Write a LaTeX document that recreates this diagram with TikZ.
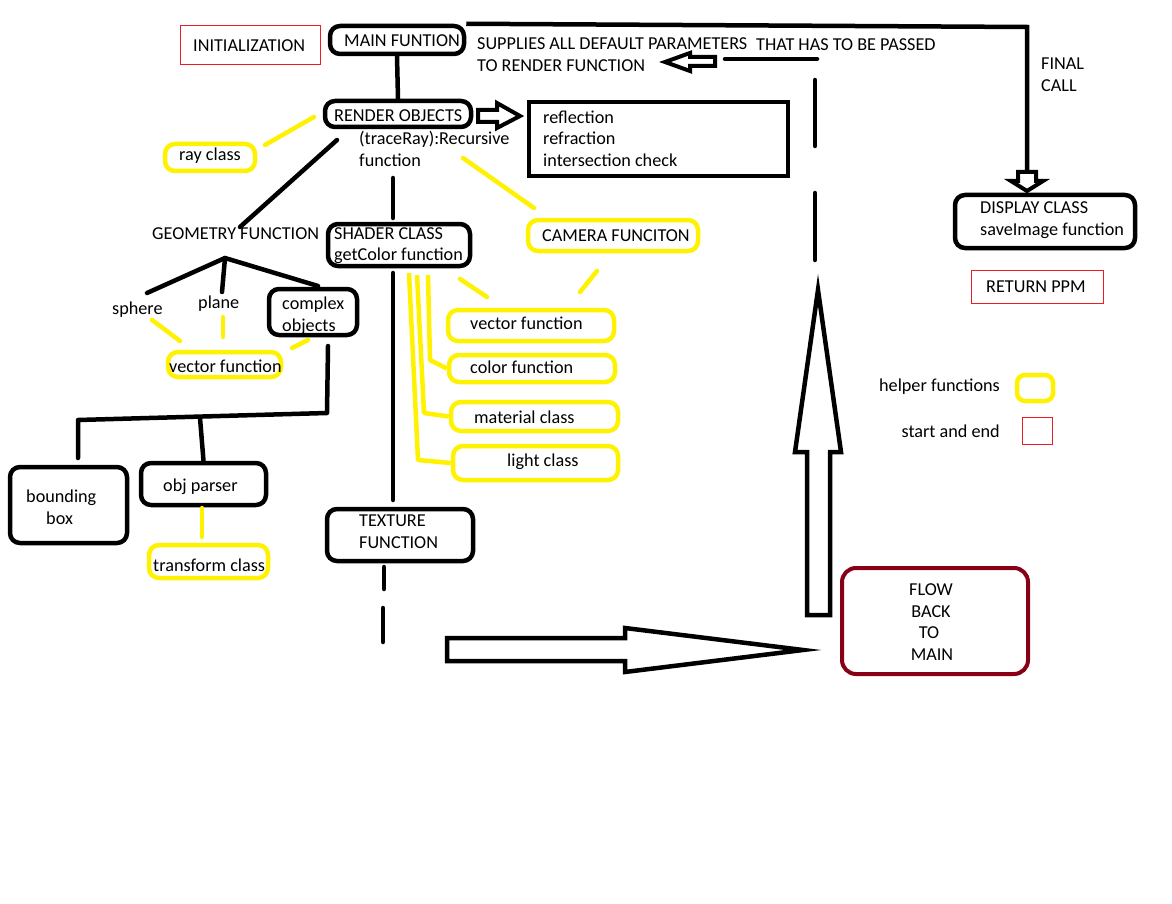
\documentclass[tikz,border=0pt]{standalone}
\usepackage{fontspec}
\setmainfont{Carlito}
\definecolor{py}{RGB}{255,242,0}
\definecolor{pr}{RGB}{237,28,36}
\definecolor{pd}{RGB}{136,0,21}
\begin{document}
\begin{tikzpicture}[x=1pt,y=-1pt,
  every node/.style={font=\fontsize{18.2}{22}\selectfont},
  txt/.style={inner sep=0pt, anchor=west, text height=12pt, text depth=0pt},
  ctxt/.style={inner sep=0pt, text height=12pt, text depth=0pt},
  etxt/.style={inner sep=0pt, anchor=east, text height=12pt, text depth=0pt},
  bbox/.style={draw=black, line width=4.5pt, rounded corners=10pt, inner sep=0pt},
  ybox/.style={draw=py, line width=4.5pt, rounded corners=10pt, inner sep=0pt},
  rbox/.style={draw=pr, line width=1pt, inner sep=0pt},
  blk/.style={draw=black, line width=4.5pt, line cap=round, line join=round},
  ylw/.style={draw=py, line width=4.5pt, line cap=round, line join=round},
  hol/.style={draw=black, line width=4pt, line join=miter, fill=white},
]
\fill[white] (0,0) rectangle (1172,904);
\useasboundingbox (0,0) rectangle (1172,904);

% boxes
\node[rbox, minimum width=140pt, minimum height=39pt] (init) at (250,45.5) {};
\node[bbox, minimum width=134pt, minimum height=28pt] (main) at (397,40) {};
\node[bbox, minimum width=146pt, minimum height=26pt] (render) at (398,114) {};
\node[draw=black, line width=4.5pt, inner sep=0pt, minimum width=259pt, minimum height=74pt] (refl) at (658.5,139) {};
\node[ybox, minimum width=90pt, minimum height=27pt] (ray) at (210,157.5) {};
\node[bbox, minimum width=88pt, minimum height=46pt] (complex) at (313,312) {};
\node[bbox, minimum width=142pt, minimum height=42pt] (shader) at (399,245) {};
\node[ybox, minimum width=113pt, minimum height=25pt] (vecL) at (224.5,364.5) {};
\node[ybox, minimum width=170pt, minimum height=31pt] (camera) at (613,235.5) {};
\node[ybox, minimum width=166pt, minimum height=31pt] (vecR) at (531,325.5) {};
\node[ybox, minimum width=166pt, minimum height=27pt] (color) at (532,368.5) {};
\node[ybox, minimum width=167pt, minimum height=29pt] (material) at (534.5,416.5) {};
\node[ybox, minimum width=165pt, minimum height=34pt] (light) at (535.5,463) {};
\node[bbox, minimum width=117pt, minimum height=76pt] (bbx) at (68.5,505) {};
\node[bbox, minimum width=125pt, minimum height=42pt] (objp) at (203.5,484) {};
\node[ybox, minimum width=119pt, minimum height=33pt] (transform) at (208.5,561.5) {};
\node[bbox, minimum width=146pt, minimum height=52pt] (texture) at (400,535) {};
\node[bbox, minimum width=180pt, minimum height=53pt] (display) at (1045,221.5) {};
\node[draw=pd, line width=4pt, rounded corners=14pt, inner sep=0pt, minimum width=186pt, minimum height=106pt] (flow) at (935,621) {};
\node[rbox, minimum width=132pt, minimum height=33pt] (ppm) at (1037,286.5) {};
\node[ybox, minimum width=36pt, minimum height=26pt, rounded corners=8pt] (legy) at (1035,388) {};
\node[rbox, minimum width=30pt, minimum height=27pt] (legr) at (1037,430.5) {};

% texts
\node[txt] (t1) at (193,45.5) {INITIALIZATION};
\node[txt] (t2) at (344,41) {MAIN FUNTION};
\node[txt] (t3) at (477,44) {SUPPLIES ALL DEFAULT PARAMETERS};
\node[txt] (t4) at (756,45) {THAT HAS TO BE PASSED};
\node[txt] (t5) at (477,66) {TO RENDER FUNCTION};
\node[txt] (t6) at (1041,64) {FINAL};
\node[txt] (t7) at (1041,86) {CALL};
\node[txt] (t8) at (334,116) {RENDER OBJECTS};
\node[txt] (t9) at (359,139) {(traceRay):Recursive};
\node[txt] (t10) at (359,161) {function};
\node[txt] (t11) at (543,117.5) {reflection};
\node[txt] (t12) at (543,139) {refraction};
\node[txt] (t13) at (543,161) {intersection check};
\node[txt] (t14) at (179,155) {ray class};
\node[txt] (t15) at (152,234) {GEOMETRY FUNCTION};
\node[txt] (t16) at (112,308) {sphere};
\node[txt] (t17) at (198,302) {plane};
\node[txt] (t18) at (282,303) {complex};
\node[txt] (t19) at (282,325) {objects};
\node[txt] (t20) at (334,233) {SHADER CLASS};
\node[txt] (t21) at (334,254) {getColor function};
\node[txt] (t22) at (169,366) {vector function};
\node[txt] (t23) at (542,235) {CAMERA FUNCITON};
\node[txt] (t24) at (470,323.5) {vector function};
\node[txt] (t25) at (470,367) {color function};
\node[txt] (t26) at (474,417) {material class};
\node[txt] (t27) at (507,460) {light class};
\node[txt] (t28) at (26,496) {bounding};
\node[txt] (t29) at (46,518) {box};
\node[txt] (t30) at (163,485) {obj parser};
\node[txt] (t31) at (153,565) {transform class};
\node[txt] (t32) at (359,520) {TEXTURE};
\node[txt] (t33) at (359,542.5) {FUNCTION};
\node[txt] (t34) at (980,208) {DISPLAY CLASS};
\node[txt] (t35) at (980,229) {saveImage function};
\node[txt] (t36) at (986,286) {RETURN PPM};
\node[etxt] (t37) at (1000,385) {helper functions};
\node[etxt] (t38) at (1000,431) {start and end};
\node[ctxt] (t39) at (931,589) {FLOW};
\node[ctxt] (t40) at (931,611) {BACK};
\node[ctxt] (t41) at (929,632.5) {TO};
\node[ctxt] (t42) at (932,654) {MAIN};

% coordinates
\coordinate (fc1) at (1027,27);
\coordinate (fc2) at (1027,172);
\coordinate (r1) at (337,140);
\coordinate (g1) at (240,227);
\coordinate (s0) at (393,178);
\coordinate (s1) at (393,218);
\coordinate (ap) at (225,258);
\coordinate (sp) at (147,293);
\coordinate (pl) at (222,292);
\coordinate (co) at (318,286);
\coordinate (c1) at (328,346);
\coordinate (c2) at (327,413);
\coordinate (c3) at (78,420);
\coordinate (c4) at (78,458);
\coordinate (c5) at (200,418);
\coordinate (sh1) at (393,273);
\coordinate (tx1) at (393,500);
\coordinate (tx2) at (384,567);
\coordinate (tx3) at (384,589);
\coordinate (tx4) at (383,608);
\coordinate (tx5) at (383,642);
\coordinate (d1) at (725,59);
\coordinate (d2) at (817,59);
\coordinate (d3) at (815,80);
\coordinate (d4) at (815,146);
\coordinate (d5) at (815,193);
\coordinate (d6) at (815,260);

% black connectors
\draw[blk] (main.south) -- (render.north);
\draw[draw=black, line width=4.5pt, line join=miter] (main.north east) -- (fc1) -- (fc2);
\draw[hol] (1018,172) -- (1036,172) -- (1036,181) -- (1043,181) -- (1027,191) -- (1011,181) -- (1018,181) -- cycle;
\draw[hol] (665,62) -- (690,53) -- (690,57) -- (715,57) -- (715,66) -- (690,66) -- (690,71) -- cycle;
\draw[blk] (d1) -- (d2);
\draw[blk] (d3) -- (d4);
\draw[blk] (d5) -- (d6);
\draw[hol] (478,110) -- (497,110) -- (497,103) -- (520,116) -- (497,128) -- (497,122) -- (478,122) -- cycle;
\draw[hol, line width=4.5pt] (807,615) -- (830,615) -- (830,452) -- (841,452) -- (818,290) -- (795,452) -- (807,452) -- cycle;
\draw[hol, line width=4.5pt] (447,638) -- (625,638) -- (625,628) -- (803,650) -- (625,672) -- (625,661) -- (447,661) -- cycle;
\draw[blk] (r1) -- (g1);
\draw[blk] (s0) -- (s1);
\draw[blk] (sp) -- (ap) -- (co);
\draw[blk] (ap) -- (pl);
\draw[blk] (c1) -- (c2) -- (c3) -- (c4);
\draw[blk] (c5) -- (objp.north);
\draw[blk] (sh1) -- (tx1);
\draw[blk] (tx2) -- (tx3);
\draw[blk] (tx4) -- (tx5);

% yellow connectors
\draw[ylw] (265,145) -- (314,117);
\draw[ylw] (463,158) -- (534,208);
\draw[ylw] (597,271) -- (580,292);
\draw[ylw] (460,279) -- (487,297);
\draw[ylw] (152,320) -- (180,341);
\draw[ylw] (223,317) -- (223,337);
\draw[ylw] (292,348) -- (308,340);
\draw[ylw] (202,508) -- (202,537);
\draw[ylw, line cap=butt] (428,275) -- (430,360) -- (color.west);
\draw[ylw, line cap=butt] (417,275) -- (424,413) -- (material.west);
\draw[ylw, line cap=butt] (409,273) -- (418,460) -- (light.west);
\end{tikzpicture}
\end{document}
